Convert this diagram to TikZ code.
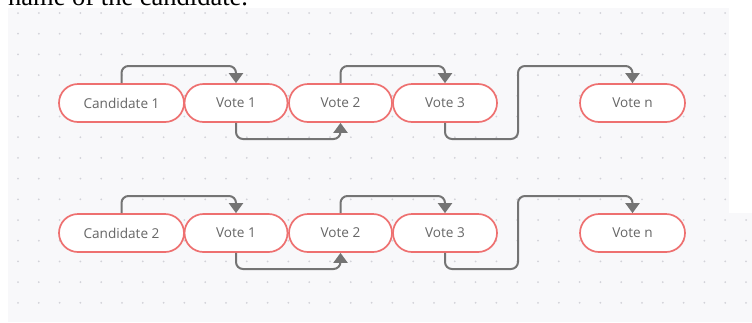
\documentclass[tikz,border=0pt]{standalone}
\usepackage{fontspec}
\setmainfont{Open Sans}
\newfontfamily\headfont{Liberation Serif}
\usetikzlibrary{arrows.meta}
\definecolor{panel}{HTML}{F8F8FA}
\definecolor{dotc}{HTML}{D2D2D8}
\definecolor{pill}{HTML}{EE7070}
\definecolor{labelc}{HTML}{666666}
\definecolor{connc}{HTML}{747474}
\tikzset{
  pillbox/.style={draw=pill, line width=1.7pt, fill=white, rounded corners=19pt,
    minimum height=38pt, inner sep=0pt, text=labelc, font=\fontsize{13.6}{15}\selectfont},
  conn/.style={draw=connc, line width=2pt, rounded corners=7pt,
    -{Triangle[width=14pt,length=10pt]}}
}
\begin{document}
\begin{tikzpicture}[x=1pt,y=-1pt]
\useasboundingbox (0,0) rectangle (752,322);
\begin{scope}
\clip (0,0) rectangle (752,322);
% heading (cut off)
\node[anchor=base west, inner sep=0pt, font=\headfont\fontsize{26.5}{28}\selectfont] (head) at (8,5) {name of the candidate.};
% panels
\fill[panel] (8,8) rectangle (729,213);
\fill[panel] (8,213) rectangle (752,322);
% dots
\foreach \i in {0,...,35} {
  \foreach \j in {0,...,14} {
    \pgfmathsetmacro{\xx}{18+20.8*\i}
    \pgfmathsetmacro{\yy}{13+20.7*\j}
    \pgfmathparse{(\xx<726 || \yy>216) ? 1 : 0}
    \ifnum\pgfmathresult=1
      \fill[dotc] (\xx,\yy) circle (1pt);
    \fi
  }
}
\end{scope}
% top row
\node[pillbox, minimum width=125pt] (c1) at (121.5,103) {Candidate 1};
\node[pillbox, minimum width=103pt] (a1) at (236,103) {Vote 1};
\node[pillbox, minimum width=103pt] (a2) at (340.5,103) {Vote 2};
\node[pillbox, minimum width=104pt] (a3) at (445,103) {Vote 3};
\node[pillbox, minimum width=105pt] (an) at (632.5,103) {Vote n};
\coordinate (ta) at (0,66);
\coordinate (ba) at (0,139);
\coordinate (ma) at (518,0);
\draw[conn] (c1.north) |- (a1.north |- ta) -- (a1.north);
\draw[conn] (a1.south) |- (a2.south |- ba) -- (a2.south);
\draw[conn] (a2.north) |- (a3.north |- ta) -- (a3.north);
\draw[conn] (a3.south) |- (ma |- ba) |- (an.north |- ta) -- (an.north);
% bottom row
\node[pillbox, minimum width=125pt] (c2) at (121.5,233) {Candidate 2};
\node[pillbox, minimum width=103pt] (b1) at (236,233) {Vote 1};
\node[pillbox, minimum width=103pt] (b2) at (340.5,233) {Vote 2};
\node[pillbox, minimum width=104pt] (b3) at (445,233) {Vote 3};
\node[pillbox, minimum width=105pt] (bn) at (632.5,233) {Vote n};
\coordinate (tb) at (0,196);
\coordinate (bb) at (0,269);
\coordinate (mb) at (518,0);
\draw[conn] (c2.north) |- (b1.north |- tb) -- (b1.north);
\draw[conn] (b1.south) |- (b2.south |- bb) -- (b2.south);
\draw[conn] (b2.north) |- (b3.north |- tb) -- (b3.north);
\draw[conn] (b3.south) |- (mb |- bb) |- (bn.north |- tb) -- (bn.north);
\end{tikzpicture}
\end{document}
